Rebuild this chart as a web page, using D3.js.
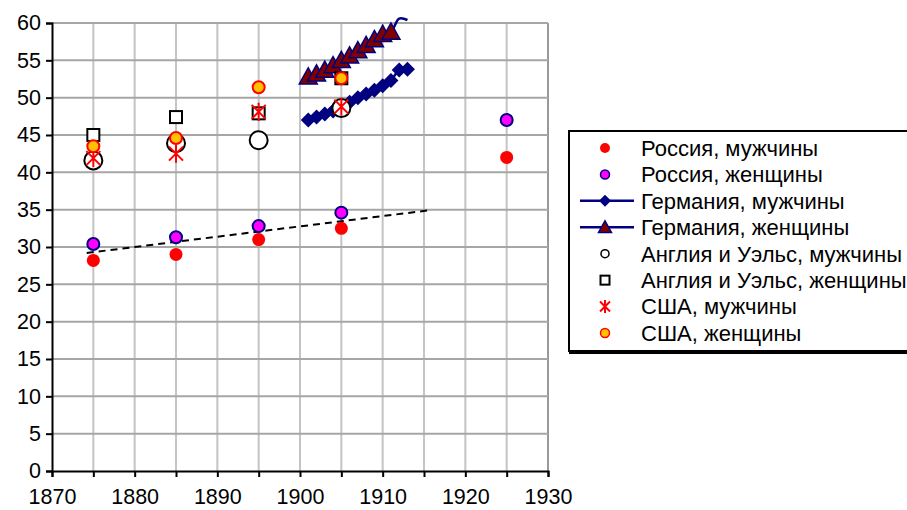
<!DOCTYPE html>
<html>
<head>
<meta charset="utf-8">
<script src="https://cdn.jsdelivr.net/npm/d3@7"></script>
<style>
body{margin:0;background:#fff;}
text{font-family:"Liberation Sans",Arial,sans-serif;}
</style>
</head>
<body>
<script>
var width=907,height=510;

// data
var censusYears=[1875,1885,1895,1905,1925];
var russiaMen=[28.2,29.0,31.0,32.5,42.0];
var russiaWomen=[30.4,31.3,32.8,34.6,47.0];
var germanyYears=[1901,1902,1903,1904,1905,1906,1907,1908,1909,1910,1911,1912,1913];
var germanyMen=[47.0,47.4,47.8,48.2,48.8,49.4,50.0,50.5,51.0,51.6,52.3,53.7,53.8];
var germanyWomen=[52.8,53.2,53.7,54.3,55.0,55.6,56.3,57.0,57.8,58.5,58.8,60.6,60.4];
var otherYears=[1875,1885,1895,1905];
var englandMen=[41.6,43.9,44.3,48.6];
var englandWomen=[45.0,47.4,47.9,52.6];
var usaMen=[41.9,42.5,48.1,48.8];
var usaWomen=[43.5,44.6,51.4,52.6];
var trendYears=[1874.2,1915.5];
var trendValues=[29.2,34.9];
var legendLabels=["Россия, мужчины","Россия, женщины","Германия, мужчины","Германия, женщины",
	"Англия и Уэльс, мужчины","Англия и Уэльс, женщины","США, мужчины","США, женщины"];

var svg=d3.select("body").append("svg").attr("width",width).attr("height",height);

var x=d3.scaleLinear().domain([1870,1930]).range([52,548]);
var y=d3.scaleLinear().domain([0,60]).range([471,23]);

function pts(xs,vs){ return xs.map(function(t,i){return {x:t,v:vs[i]};}); }

// grid
svg.append("g").selectAll("line").data(d3.range(1875,1931,5)).enter().append("line")
	.attr("x1",function(d){return x(d);}).attr("x2",function(d){return x(d);})
	.attr("y1",y(0)).attr("y2",y(60))
	.attr("stroke",function(d){return d==1930?"#999":"#c4c4c4";}).attr("stroke-width",2);
svg.append("g").selectAll("line").data(d3.range(5,61,5)).enter().append("line")
	.attr("x1",x(1870)).attr("x2",x(1930))
	.attr("y1",function(d){return y(d);}).attr("y2",function(d){return y(d);})
	.attr("stroke","#a6a6a6").attr("stroke-width",2);

// axes
var xAxis=svg.append("g").attr("transform","translate(0,"+y(0)+")")
	.call(d3.axisBottom(x).tickValues(d3.range(1870,1931,5)).tickSize(6).tickFormat(function(d){return d%10==0?d:"";}));
var yAxis=svg.append("g").attr("transform","translate("+x(1870)+",0)")
	.call(d3.axisLeft(y).tickValues(d3.range(0,61,5)).tickSize(6));
[xAxis,yAxis].forEach(function(a){
	a.select(".domain").attr("stroke","#000").attr("stroke-width",2);
	a.selectAll(".tick line").attr("stroke","#000").attr("stroke-width",2);
	a.selectAll("text").attr("font-size",21.5).attr("fill","#000")
		.attr("font-family","'Liberation Sans',Arial,sans-serif");
});
xAxis.selectAll("text").attr("y",18).attr("dy","0.71em");
yAxis.selectAll("text").attr("x",-11);

var line=d3.line().x(function(d){return x(d.x);}).y(function(d){return y(d.v);});

// markers
function dot(g,r,fill,stroke,sw){
	g.append("circle").attr("r",r).attr("fill",fill).attr("stroke",stroke).attr("stroke-width",sw);
}
function diamond(g,s){
	g.append("path").attr("d","M0,"+(-s)+"L"+s+",0L0,"+s+"L"+(-s)+",0Z").attr("fill","#000080");
}
function triangle(g,s){
	g.append("path").attr("d","M0,"+(-s)+"L"+s+","+(s*0.8)+"L"+(-s)+","+(s*0.8)+"Z")
		.attr("fill","#800000").attr("stroke","#000080").attr("stroke-width",1.5);
}
function square(g,s){
	g.append("rect").attr("x",-s).attr("y",-s).attr("width",2*s).attr("height",2*s)
		.attr("fill","#fff").attr("stroke","#000").attr("stroke-width",2);
}
function star(g,s){
	g.append("path").attr("d","M"+(-s)+","+(-s)+"L"+s+","+s+"M"+s+","+(-s)+"L"+(-s)+","+s+"M0,"+(-s*1.3)+"L0,"+(s*1.3))
		.attr("fill","none").attr("stroke","#ff0000").attr("stroke-width",2);
}

var series=[
	{data:pts(censusYears,russiaMen),draw:function(g){dot(g,6.5,"#ff0000","none",0);},leg:function(g){dot(g,5,"#ff0000","none",0);}},
	{data:pts(censusYears,russiaWomen),draw:function(g){dot(g,6,"#ff00ff","#000080",2);},leg:function(g){dot(g,4.5,"#ff00ff","#000080",1.5);}},
	{data:pts(germanyYears,germanyMen),line:true,draw:function(g){diamond(g,7.5);},leg:function(g){diamond(g,6);}},
	{data:pts(germanyYears,germanyWomen),line:true,draw:function(g){triangle(g,9);},leg:function(g){triangle(g,6.5);}},
	{data:pts(otherYears,englandMen),draw:function(g){dot(g,9,"#fff","#000",2);},leg:function(g){dot(g,4,"#fff","#000",1.5);}},
	{data:pts(otherYears,englandWomen),draw:function(g){square(g,6);},leg:function(g){square(g,4.5);}},
	{data:pts(otherYears,usaMen),draw:function(g){star(g,7);},leg:function(g){star(g,5);}},
	{data:pts(otherYears,usaWomen),draw:function(g){dot(g,6,"#ffc000","#ff0000",2);},leg:function(g){dot(g,4.5,"#ffc000","#ff0000",1.5);}}
];

// trend line
svg.append("path").datum(pts(trendYears,trendValues)).attr("d",line)
	.attr("fill","none").attr("stroke","#000").attr("stroke-width",2).attr("stroke-dasharray","7,5");

series.forEach(function(s){
	var g=svg.append("g");
	if(s.line){
		g.append("path").datum(s.data).attr("d",line.curve(d3.curveCatmullRom))
			.attr("fill","none").attr("stroke","#000080").attr("stroke-width",2.5);
		line.curve(d3.curveLinear);
	}
	g.selectAll("g").data(s.data.filter(function(d){return d.v<=60;})).enter().append("g")
		.attr("transform",function(d){return "translate("+x(d.x)+","+y(d.v)+")";})
		.each(function(){ s.draw(d3.select(this)); });
});

// legend
var leg=svg.append("g");
leg.append("rect").attr("x",569).attr("y",131).attr("width",360).attr("height",220)
	.attr("fill","#fff").attr("stroke","#000").attr("stroke-width",2);
leg.append("line").attr("x1",569).attr("x2",930).attr("y1",353).attr("y2",353).attr("stroke","#000").attr("stroke-width",2);
var rowY=d3.scaleLinear().domain([0,7]).range([148,333]);
series.forEach(function(s,i){
	var g=leg.append("g").attr("transform","translate(0,"+rowY(i)+")");
	if(s.line) g.append("line").attr("x1",580).attr("x2",634).attr("stroke","#000080").attr("stroke-width",2.5);
	var m=g.append("g").attr("transform","translate(605,0)");
	s.leg(m);
	g.append("text").attr("x",641).attr("dy","0.36em").attr("font-size",22).text(legendLabels[i]);
});
</script>
</body>
</html>
